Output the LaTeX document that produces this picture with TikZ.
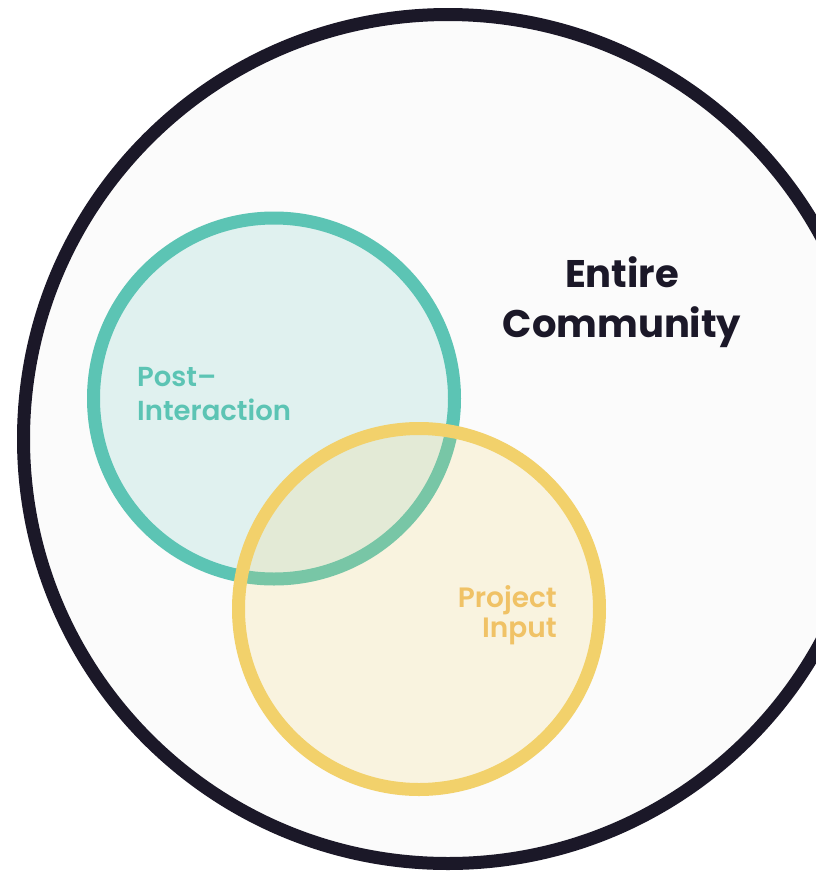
\documentclass[tikz,border=0pt]{standalone}
\usepackage{fontspec}
\setmainfont{Poppins}
\newfontfamily\semifont{Poppins SemiBold}
\definecolor{ink}{HTML}{1B1828}
\definecolor{paper}{HTML}{FBFBFB}
\definecolor{teal}{HTML}{5CC4B4}
\definecolor{sun}{HTML}{F2D16B}
\definecolor{suntext}{HTML}{F0C266}
\tikzset{
  ring/.style={circle, inner sep=0pt, outer sep=0pt, line width=13pt},
  label/.style={inner sep=0pt},
}
\begin{document}
\begin{tikzpicture}[x=1pt, y=-1pt]
  \useasboundingbox (0,0) rectangle (816,871);
  \fill[white] (0,0) rectangle (816,871);
  % whole community
  \node[ring, draw=ink, fill=paper, minimum size=849pt] (all) at (448,439) {};
  % post-interaction group
  \node[ring, draw=teal, fill=teal, fill opacity=0.17, draw opacity=1, minimum size=361pt] (post) at (274,398.5) {};
  % project input group, drawn on top with a translucent fill
  \node[ring, draw=sun, fill=sun, fill opacity=0.19, draw opacity=1, minimum size=361pt] (proj) at (419,609) {};
  % labels (anchored at the baseline of their last line)
  \node[label, text=ink, font=\bfseries\fontsize{38.5}{50}\selectfont, align=center, anchor=base] (allt) at (622,337) {Entire\\Community};
  \node[label, text=teal, font=\semifont\fontsize{27.5}{34}\selectfont, align=left, anchor=base west] (postt) at (137,420) {Post–\\Interaction};
  \node[label, text=suntext, font=\semifont\fontsize{28}{30}\selectfont, align=right, anchor=base east] (projt) at (557,637) {Project\\Input};
\end{tikzpicture}
\end{document}
